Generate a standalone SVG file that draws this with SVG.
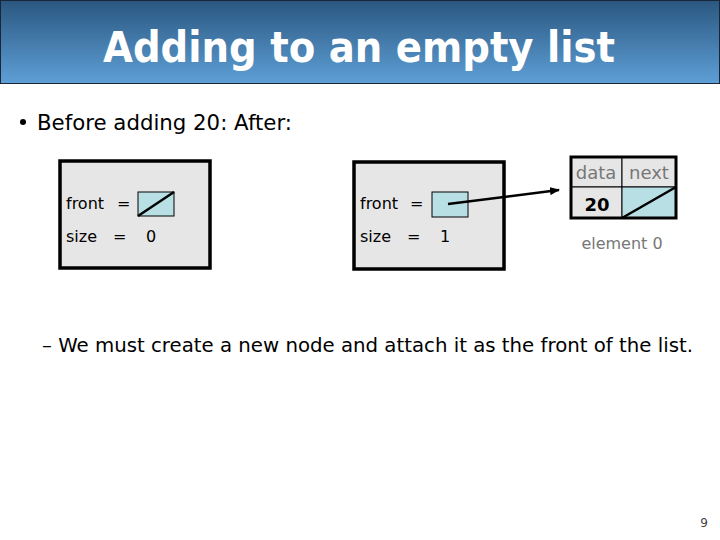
<svg xmlns="http://www.w3.org/2000/svg" width="720" height="540" viewBox="0 0 720 540">
<defs>
<linearGradient id="tb" x1="0" y1="0" x2="0" y2="1">
<stop offset="0" stop-color="#2a5780"/>
<stop offset="1" stop-color="#5e9fd6"/>
</linearGradient>
<marker id="ah" markerWidth="10" markerHeight="8" refX="9" refY="4" orient="auto" markerUnits="userSpaceOnUse">
<path d="M0,0 L10,4 L0,8 z" fill="#000"/>
</marker>
<style>
text{font-family:"DejaVu Sans","Liberation Sans",sans-serif}
.lbl{font-size:16px;fill:#000}
.frame{fill:#e6e6e6;stroke:#000;stroke-width:3.5}
.ptr{fill:#b8dfe4;stroke:#000;stroke-width:1}
.cell{fill:#e6e6e6;stroke:#000;stroke-width:1}
.slash{stroke:#000;stroke-width:2.5}
.gray{fill:#777}
</style>
</defs>
<rect width="720" height="540" fill="#fff"/>
<g id="title">
<rect x="0.5" y="0.5" width="719" height="83" fill="url(#tb)" stroke="#1a2638" stroke-width="1"/>
<text x="359" y="62" text-anchor="middle" font-size="42" font-weight="bold" fill="#fff" textLength="512" lengthAdjust="spacingAndGlyphs">Adding to an empty list</text>
</g>
<g id="bullet">
<circle cx="23" cy="122" r="3" fill="#000"/>
<text x="37" y="130" font-size="22" textLength="255" lengthAdjust="spacingAndGlyphs">Before adding 20: After:</text>
</g>
<g id="before">
<rect class="frame" x="60" y="161" width="150" height="107"/>
<text class="lbl" x="66" y="209">front</text>
<text class="lbl" x="117" y="209">=</text>
<rect class="ptr" x="138" y="192" width="36" height="24"/>
<line class="slash" x1="138" y1="216" x2="174" y2="192"/>
<text class="lbl" x="66" y="242">size</text>
<text class="lbl" x="113" y="242">=</text>
<text class="lbl" x="146" y="242">0</text>
</g>
<g id="after">
<rect class="frame" x="354" y="162" width="150" height="107"/>
<text class="lbl" x="360" y="209">front</text>
<text class="lbl" x="410" y="209">=</text>
<rect class="ptr" x="432" y="192" width="36" height="25"/>
<text class="lbl" x="360" y="242">size</text>
<text class="lbl" x="407" y="242">=</text>
<text class="lbl" x="440" y="242">1</text>
</g>
<g id="node0">
<rect class="cell" x="571" y="157" width="51" height="30"/>
<rect class="cell" x="622" y="157" width="54" height="30"/>
<rect class="cell" x="571" y="187" width="51" height="31"/>
<rect class="ptr" x="622" y="187" width="54" height="31"/>
<line class="slash" x1="622" y1="218" x2="676" y2="187"/>
<rect x="571" y="157" width="105" height="61" fill="none" stroke="#000" stroke-width="3"/>
<text class="gray" x="596" y="179" font-size="18" text-anchor="middle">data</text>
<text class="gray" x="649" y="179" font-size="18" text-anchor="middle">next</text>
<text x="597" y="211" font-size="18" font-weight="bold" text-anchor="middle">20</text>
<text class="gray" x="622" y="249" font-size="16" text-anchor="middle">element 0</text>
</g>
<g id="connectors">
<line x1="448" y1="204" x2="559" y2="190" stroke="#000" stroke-width="2.5" marker-end="url(#ah)"/>
</g>
<g id="note">
<text x="42" y="352" font-size="20" textLength="651" lengthAdjust="spacingAndGlyphs">– We must create a new node and attach it as the front of the list.</text>
</g>
<text x="704" y="527" font-size="12" fill="#444" text-anchor="middle">9</text>
</svg>
